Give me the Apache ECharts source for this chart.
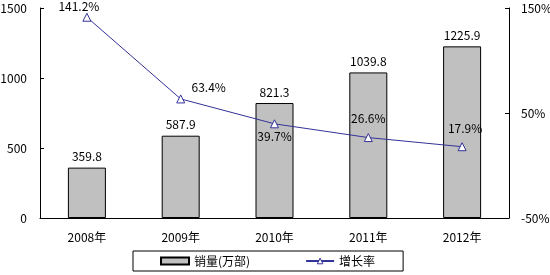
<!DOCTYPE html>
<html><head><meta charset="utf-8">
<script src="https://cdn.jsdelivr.net/npm/echarts@6/dist/echarts.min.js"></script>
<style>html,body{margin:0;padding:0;background:#fff}#c{width:550px;height:275px}</style>
</head><body><div id="c"></div>
<script>
const categories = ['2008年','2009年','2010年','2011年','2012年'];
const sales = [359.8, 587.9, 821.3, 1039.8, 1225.9];
const growth = [141.2, 63.4, 39.7, 26.6, 17.9];
const seriesNames = ['销量(万部)', '增长率'];
const growthLabelPos = [
  {position:'top', offset:[-8,5]},
  {position:'top', offset:[28,4]},
  {position:'bottom', offset:[0,-3]},
  {position:'top', offset:[0,-4]},
  {position:'top', offset:[3,-3]}
];
const font = '"SimSun","Noto Sans CJK SC",sans-serif';
const chart = echarts.init(document.getElementById('c'), null, {renderer:'canvas'});
const txt = {color:'#000', fontSize:12, fontFamily:font};
chart.setOption({
  animation:false,
  backgroundColor:'#fff',
  textStyle: txt,
  grid:{left:40, right:41, top:8, bottom:57, containLabel:false, outerBoundsMode:'none'},
  legend:{
    left:133, top:251, width:270,
    padding:[4,28,4,27], itemGap:55,
    borderColor:'#000', borderWidth:1,
    itemWidth:28, itemHeight:7,
    textStyle:txt,
    data:[{name:seriesNames[0], icon:'rect'},
          {name:seriesNames[1], itemStyle:{color:'#fff', borderColor:'#333399', borderWidth:1}}]
  },
  xAxis:{
    type:'category', data:categories,
    axisLine:{lineStyle:{color:'#000'}},
    axisTick:{inside:true, length:4, lineStyle:{color:'#000'}},
    axisLabel:{margin:13, color:'#000', fontSize:12, fontFamily:font}
  },
  yAxis:[{
    type:'value', min:0, max:1500, interval:500,
    axisLine:{show:true, lineStyle:{color:'#000'}},
    axisTick:{show:true, inside:true, length:4, lineStyle:{color:'#000'}},
    axisLabel:{margin:13, color:'#000', fontSize:12, fontFamily:font, formatter:v=>String(v)},
    splitLine:{show:false}
  },{
    type:'value', min:-50, max:150, interval:100, position:'right',
    axisLine:{show:true, lineStyle:{color:'#000'}},
    axisTick:{show:true, inside:true, length:4, lineStyle:{color:'#000'}},
    axisLabel:{margin:12, color:'#000', fontSize:12, fontFamily:font, formatter:'{value}%'},
    splitLine:{show:false}
  }],
  series:[{
    name:seriesNames[0], type:'bar', data:sales, barWidth:38, yAxisIndex:0,
    itemStyle:{color:'#c0c0c0', borderColor:'#000', borderWidth:1},
    label:{show:true, position:'top', distance:5, color:'#000', fontSize:12, fontFamily:font,
      formatter:p=>p.value.toFixed(1)}
  },{
    name:seriesNames[1], type:'line', yAxisIndex:1,
    data:growth.map((v,i)=>({value:v, label:growthLabelPos[i]})),
    symbol:'triangle', symbolSize:8,
    lineStyle:{color:'#333399', width:1},
    itemStyle:{color:'#fff', borderColor:'#333399', borderWidth:1},
    label:{show:true, color:'#000', fontSize:12, fontFamily:font, formatter:p=>p.value.toFixed(1)+'%'},
    z:5
  }]
});
</script></body></html>
